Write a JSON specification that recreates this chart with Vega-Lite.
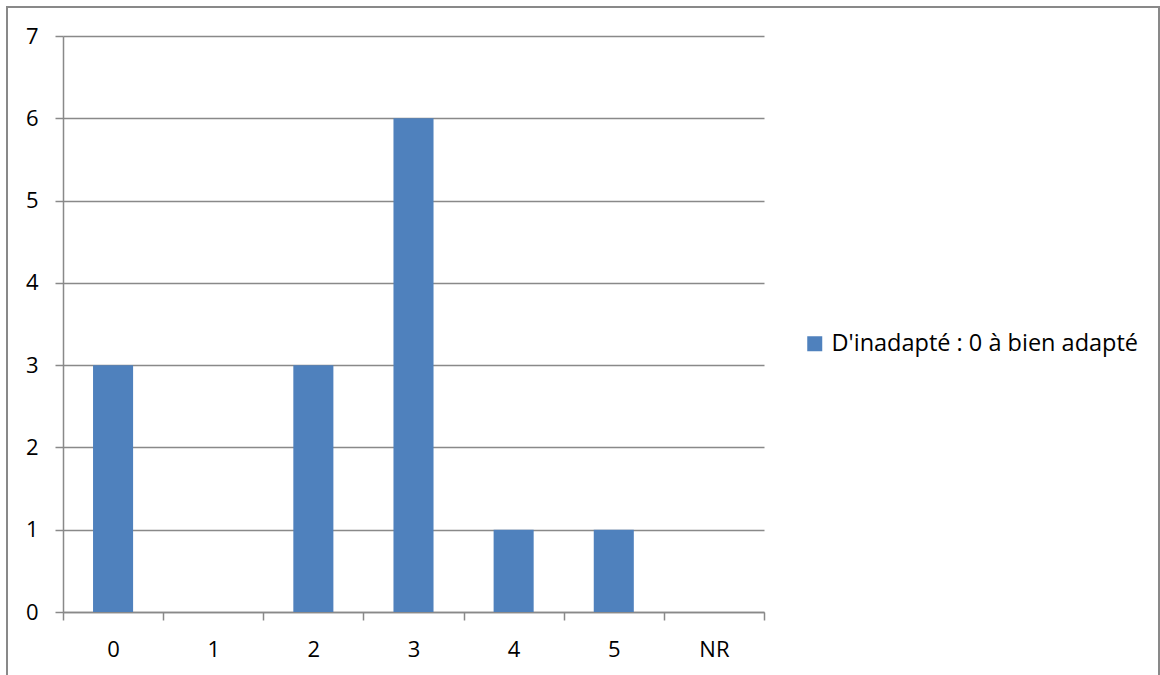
{
  "$schema": "https://vega.github.io/schema/vega-lite/v6.json",
  "autosize": {"type": "none"},
  "padding": {"left": 7, "top": 7, "right": 1, "bottom": -15},
  "width": 1152,
  "height": 683,
  "background": "white",
  "config": {
    "view": {"stroke": "#898989", "strokeWidth": 2},
    "font": "Open Sans"
  },
  "data": {
    "values": [
      {"categorie": "0", "valeur": 3, "serie": "D'inadapté : 0 à bien adapté"},
      {"categorie": "1", "valeur": 0, "serie": "D'inadapté : 0 à bien adapté"},
      {"categorie": "2", "valeur": 3, "serie": "D'inadapté : 0 à bien adapté"},
      {"categorie": "3", "valeur": 6, "serie": "D'inadapté : 0 à bien adapté"},
      {"categorie": "4", "valeur": 1, "serie": "D'inadapté : 0 à bien adapté"},
      {"categorie": "5", "valeur": 1, "serie": "D'inadapté : 0 à bien adapté"},
      {"categorie": "NR", "valeur": 0, "serie": "D'inadapté : 0 à bien adapté"}
    ]
  },
  "mark": {"type": "bar", "width": {"band": 0.4}},
  "encoding": {
    "x": {
      "field": "categorie",
      "type": "nominal",
      "sort": null,
      "scale": {"range": [56, 757], "paddingInner": 0, "paddingOuter": 0},
      "axis": {
        "title": null,
        "labelAngle": 0,
        "offset": -78,
        "tickBand": "extent",
        "tickSize": 8,
        "tickColor": "#898989",
        "domainColor": "#898989",
        "domainWidth": 1.5,
        "tickWidth": 1.5,
        "labelFontSize": 22,
        "labelColor": "#000000",
        "labelPadding": 19,
        "grid": false
      }
    },
    "y": {
      "field": "valeur",
      "type": "quantitative",
      "scale": {"domain": [0, 7], "range": [605, 29], "nice": false},
      "axis": {
        "title": null,
        "offset": -56,
        "values": [0, 1, 2, 3, 4, 5, 6, 7],
        "tickSize": 8,
        "grid": true,
        "gridColor": "#898989",
        "gridWidth": 1.5,
        "tickColor": "#898989",
        "domainColor": "#898989",
        "domainWidth": 1.5,
        "tickWidth": 1.5,
        "labelFontSize": 22,
        "labelColor": "#000000",
        "labelPadding": 17
      }
    },
    "color": {
      "field": "serie",
      "type": "nominal",
      "scale": {"range": ["#4F81BD"]},
      "legend": {
        "title": null,
        "orient": "none",
        "legendX": 796,
        "legendY": 325,
        "symbolType": "square",
        "symbolSize": 225,
        "symbolStrokeWidth": 0,
        "labelFontSize": 23.5,
        "labelColor": "#000000",
        "labelOffset": 5,
        "labelLimit": 0
      }
    }
  }
}
